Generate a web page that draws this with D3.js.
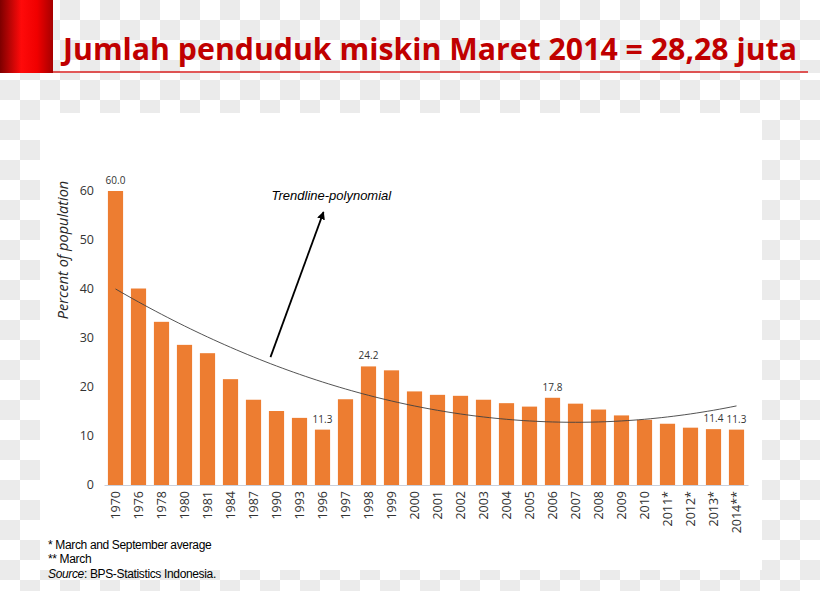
<!DOCTYPE html>
<html>
<head>
<meta charset="utf-8">
<script src="https://cdn.jsdelivr.net/npm/d3@7"></script>
<style>
  body { margin: 0; background: #fff; }
  svg { display: block; }
</style>
</head>
<body>
<svg id="chart"></svg>
<script>
// poverty rate, percent of population (BPS)
const years = ["1970", "1976", "1978", "1980", "1981", "1984", "1987", "1990", "1993", "1996",
  "1997", "1998", "1999", "2000", "2001", "2002", "2003", "2004", "2005", "2006",
  "2007", "2008", "2009", "2010", "2011*", "2012*", "2013*", "2014**"];
const poverty = [60.0, 40.1, 33.3, 28.6, 26.9, 21.6, 17.4, 15.1, 13.7, 11.3,
  17.5, 24.2, 23.4, 19.1, 18.4, 18.2, 17.4, 16.7, 16.0, 17.8,
  16.6, 15.4, 14.2, 13.3, 12.5, 11.7, 11.4, 11.3];
const labelledYears = ["1970", "1996", "1998", "2006", "2013*", "2014**"];
const yTicks = [0, 10, 20, 30, 40, 50, 60];

const titleText = "Jumlah penduduk miskin Maret 2014 = 28,28 juta";
const yTitle = "Percent of population";
const trendLabel = "Trendline-polynomial";
const notes = ["* March and September average", "** March"];

const width = 820, height = 591;

const svg = d3.select("#chart")
  .attr("width", width)
  .attr("height", height);

const defs = svg.append("defs");

// fake transparency checkerboard (top band is out of phase)
function checker(id, grayFirst) {
  const p = defs.append("pattern")
    .attr("id", id)
    .attr("patternUnits", "userSpaceOnUse")
    .attr("width", 40).attr("height", 40);
  p.append("rect").attr("width", 40).attr("height", 40).attr("fill", "#ffffff");
  const cells = grayFirst ? [[0, 0], [20, 20]] : [[20, 0], [0, 20]];
  cells.forEach(c => p.append("rect")
    .attr("x", c[0]).attr("y", c[1]).attr("width", 20).attr("height", 20)
    .attr("fill", "#ebebeb"));
}
checker("checkTop", false);
checker("checkBody", true);

svg.append("rect").attr("width", width).attr("height", 73).attr("fill", "url(#checkTop)");
svg.append("rect").attr("y", 73).attr("width", width).attr("height", height - 73).attr("fill", "url(#checkBody)");

// red block + rule of the slide title
const grad = defs.append("linearGradient").attr("id", "redBar");
[["0%", "#7d0000"], ["40%", "#ff0a0a"], ["70%", "#f00000"], ["100%", "#a60000"]]
  .forEach(s => grad.append("stop").attr("offset", s[0]).attr("stop-color", s[1]));
svg.append("rect").attr("x", 0).attr("y", 0).attr("width", 53).attr("height", 73).attr("fill", "url(#redBar)");
svg.append("line")
  .attr("x1", 53).attr("x2", 808).attr("y1", 72).attr("y2", 72)
  .attr("stroke", "#d82020").attr("stroke-width", 1.5);

svg.append("text")
  .attr("x", 63).attr("y", 60)
  .attr("textLength", 734).attr("lengthAdjust", "spacingAndGlyphs")
  .style("font-family", "'Open Sans', 'Noto Sans', sans-serif")
  .style("font-weight", "bold")
  .style("font-size", "31px")
  .style("fill", "#c00000")
  .text(titleText);

// white chart panel
svg.append("rect")
  .attr("x", 40).attr("y", 113).attr("width", 722).attr("height", 457)
  .attr("fill", "#ffffff");

const x = d3.scaleBand()
  .domain(years)
  .range([104, 748])
  .paddingInner(0.34)
  .paddingOuter(0.17);

const y = d3.scaleLinear()
  .domain([0, 60])
  .range([485, 191]);

const font = "'Open Sans', 'Noto Sans', sans-serif";

// y axis labels
svg.append("g")
  .selectAll("text")
  .data(yTicks)
  .join("text")
  .attr("x", 94)
  .attr("y", d => y(d))
  .attr("dy", "0.35em")
  .attr("text-anchor", "end")
  .style("font-family", font)
  .style("font-size", "12.5px")
  .style("fill", "#333")
  .text(d => d);

svg.append("text")
  .attr("transform", "translate(68,250) rotate(-90)")
  .attr("text-anchor", "middle")
  .style("font-family", font)
  .style("font-style", "italic")
  .style("font-size", "14.5px")
  .style("fill", "#262626")
  .text(yTitle);

// bars
const data = years.map((yr, i) => ({ year: yr, value: poverty[i] }));

svg.append("g")
  .selectAll("rect")
  .data(data)
  .join("rect")
  .attr("x", d => x(d.year))
  .attr("y", d => y(d.value))
  .attr("width", x.bandwidth())
  .attr("height", d => y(0) - y(d.value))
  .attr("fill", "#ed7d31");

// category axis
const xAxis = svg.append("g")
  .attr("transform", `translate(0,${y(0)})`)
  .call(d3.axisBottom(x).tickSize(0).tickPadding(0));
xAxis.select(".domain").attr("stroke", "#c9d0dc").attr("stroke-width", 1.2);
xAxis.selectAll(".tick text")
  .attr("transform", "rotate(-90)")
  .attr("x", -6).attr("y", 0).attr("dy", "0.36em")
  .attr("text-anchor", "end")
  .style("font-family", font)
  .style("font-size", "12.5px")
  .style("fill", "#333");

// value labels on a few bars
svg.append("g")
  .selectAll("text")
  .data(data.filter(d => labelledYears.includes(d.year)))
  .join("text")
  .attr("x", d => x(d.year) + x.bandwidth() / 2)
  .attr("y", d => y(d.value) - 7)
  .attr("text-anchor", "middle")
  .style("font-family", font)
  .style("font-size", "10px")
  .style("fill", "#333")
  .text(d => d.value.toFixed(1));

// 2nd order least squares trend over category index (like the spreadsheet trendline)
function quadFit(vals) {
  const S = [0, 0, 0, 0, 0], T = [0, 0, 0];
  vals.forEach((v, i) => {
    for (let k = 0; k < 5; k++) S[k] += Math.pow(i, k);
    for (let k = 0; k < 3; k++) T[k] += v * Math.pow(i, k);
  });
  const M = [[S[0], S[1], S[2], T[0]], [S[1], S[2], S[3], T[1]], [S[2], S[3], S[4], T[2]]];
  for (let c = 0; c < 3; c++) {
    for (let r = c + 1; r < 3; r++) {
      const f = M[r][c] / M[c][c];
      for (let k = c; k < 4; k++) M[r][k] -= f * M[c][k];
    }
  }
  const b = [0, 0, 0];
  for (let r = 2; r >= 0; r--) {
    let s = M[r][3];
    for (let k = r + 1; k < 3; k++) s -= M[r][k] * b[k];
    b[r] = s / M[r][r];
  }
  return t => b[0] + b[1] * t + b[2] * t * t;
}
const trend = quadFit(poverty);
const idx = d3.scaleLinear()
  .domain([0, years.length - 1])
  .range([x(years[0]) + x.bandwidth() / 2, x(years[years.length - 1]) + x.bandwidth() / 2]);

svg.append("path")
  .datum(d3.range(0, years.length - 1 + 0.001, 0.25))
  .attr("fill", "none")
  .attr("stroke", "#404040")
  .attr("stroke-width", 0.9)
  .attr("d", d3.line().x(t => idx(t)).y(t => y(trend(t))));

// annotation arrow
defs.append("marker")
  .attr("id", "arrowHead")
  .attr("viewBox", "0 0 10 10")
  .attr("refX", 9).attr("refY", 5)
  .attr("markerWidth", 4.5).attr("markerHeight", 4.5)
  .attr("orient", "auto")
  .append("path")
  .attr("d", "M0,0 L10,5 L0,10 Z")
  .attr("fill", "#000");

const cx = yr => x(yr) + x.bandwidth() / 2;
svg.append("line")
  .attr("x1", cx("1990") - 6).attr("y1", y(26.1))
  .attr("x2", cx("1996") + 1).attr("y2", y(55.7))
  .attr("stroke", "#000")
  .attr("stroke-width", 1.8)
  .attr("marker-end", "url(#arrowHead)");

svg.append("text")
  .attr("x", cx("1990") - 5)
  .attr("y", y(58.2))
  .style("font-family", "'Liberation Sans', Arial, sans-serif")
  .style("font-style", "italic")
  .style("font-size", "13px")
  .style("fill", "#000")
  .text(trendLabel);

// footnotes
const foot = svg.append("g")
  .style("font-family", "'Liberation Sans', Arial, sans-serif")
  .style("font-size", "12px")
  .style("letter-spacing", "-0.35px")
  .style("fill", "#000");
notes.forEach((n, i) => {
  foot.append("text").attr("x", 48).attr("y", 548.5 + i * 14.5).text(n);
});
const src = foot.append("text").attr("x", 48).attr("y", 577.5);
src.append("tspan").style("font-style", "italic").text("Source");
src.append("tspan").text(": BPS-Statistics Indonesia.");
</script>
</body>
</html>
